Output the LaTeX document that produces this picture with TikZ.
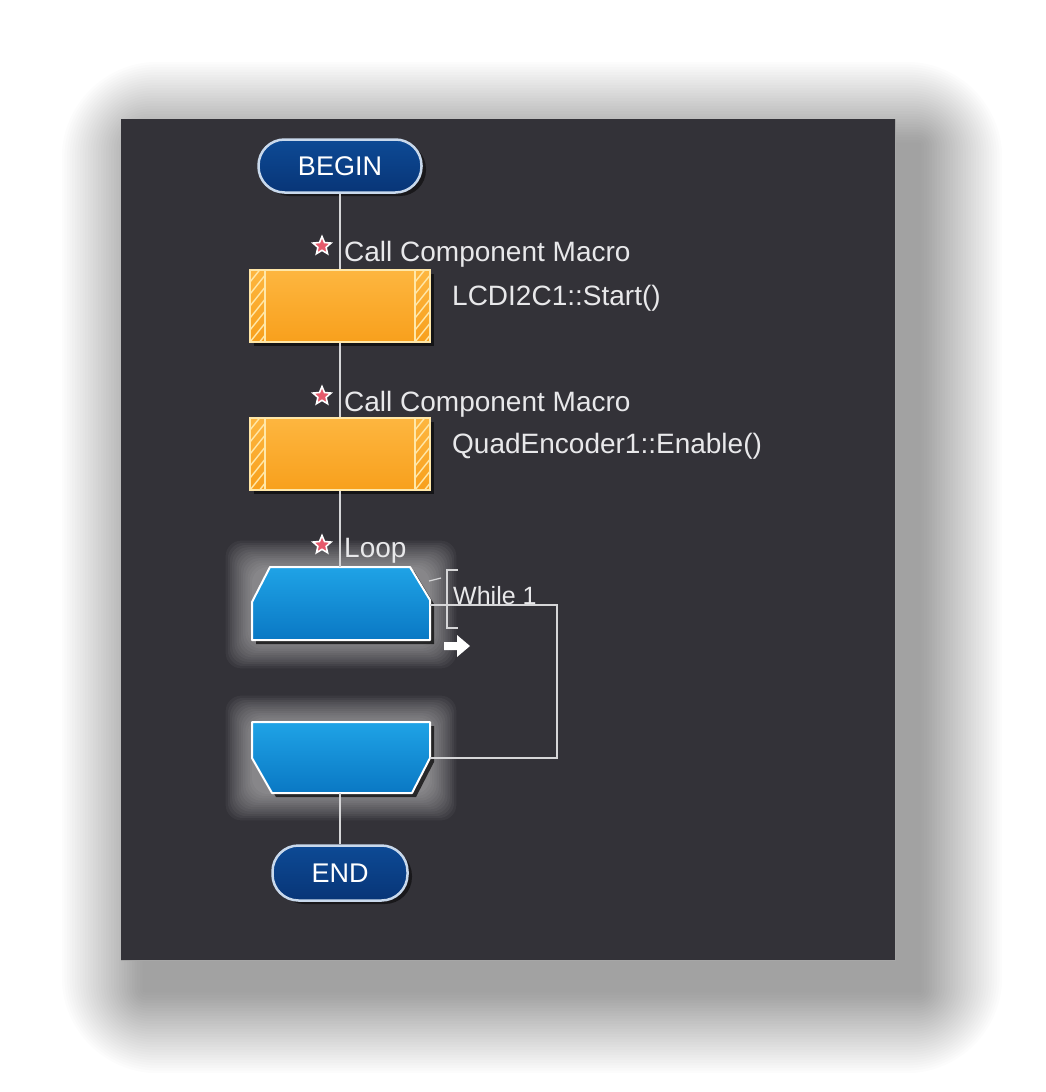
\documentclass[tikz,border=0pt]{standalone}
\usepackage{fontspec}
\setmainfont{Liberation Sans}
\usetikzlibrary{shapes.geometric}
\definecolor{panel}{HTML}{333238}
\definecolor{pilltop}{HTML}{0D4A95}
\definecolor{pillbot}{HTML}{083577}
\definecolor{pillrim}{HTML}{C9D9EC}
\definecolor{orgtop}{HTML}{FDB640}
\definecolor{orgbot}{HTML}{F8A01C}
\definecolor{orgrim}{HTML}{FFE7A8}
\definecolor{bluetop}{HTML}{1FA3E6}
\definecolor{bluebot}{HTML}{0A78C4}
\definecolor{txt}{HTML}{E8E8EA}
\definecolor{wire}{HTML}{D6D6D8}
\definecolor{starfill}{HTML}{E65A6C}
\tikzset{
  lbl/.style={text=txt, font=\fontsize{28}{30}\selectfont, inner sep=0pt, anchor=west},
  pill/.style={rectangle, rounded corners=26pt, draw=pillrim, line width=2.5pt,
     top color=pilltop, bottom color=pillbot, text=white,
     font=\fontsize{27}{30}\selectfont, minimum height=53pt},
  macro/.style={rectangle, draw=orgrim, line width=1.5pt, top color=orgtop, bottom color=orgbot,
     minimum width=180pt, minimum height=72pt, inner sep=0pt},
  anchorbox/.style={rectangle, draw=none, inner sep=0pt, minimum width=180pt},
  wireline/.style={draw=wire, line width=2pt},
  redstar/.style={star, star points=5, star point ratio=2.2, fill=starfill, draw=white,
     line width=1.6pt, minimum size=19pt, inner sep=0pt},
  hatch/.style={draw=orgrim, line width=1.4pt}
}
\begin{document}
\begin{tikzpicture}[x=1pt,y=-1pt]
\useasboundingbox (0,0) rectangle (1046,1092);
\fill[white] (0,0) rectangle (1046,1092);
% outer shadow
\foreach \i in {1,...,32}{
  \fill[black, opacity=0.012, rounded corners=\i*3pt]
    ({121+24-2.6*\i},{119+26-2.6*\i}) rectangle ({895+24+2.6*\i},{960+30+2.6*\i});
}
% panel
\fill[panel] (121,119) rectangle (895,960);
\draw[gray!70, line width=0.8pt] (895,119) -- (895,960) -- (121,960);

% glows around loop shapes
\foreach \i in {0,...,12}{
  \fill[white, opacity=0.045, rounded corners=16pt]
    ({252-2.2*\i},{567-2.2*\i}) rectangle ({430+2.2*\i},{642+2.2*\i});
  \fill[white, opacity=0.045, rounded corners=16pt]
    ({252-2.2*\i},{722-2.2*\i}) rectangle ({430+2.2*\i},{794+2.2*\i});
}

% BEGIN
\fill[black, opacity=0.5, rounded corners=26pt] (263,143) rectangle (426,196);
\node[pill, minimum width=163pt] (begin) at (340,166) {BEGIN};

% macro box 1
\fill[black, opacity=0.6] (254,274) rectangle (434,346);
\node[macro] (m1) at (340,306) {};
\begin{scope}
  \clip (250,270) rectangle (265,342);
  \foreach \k in {0,...,6}{\draw[hatch] (250,{282+12*\k}) -- (266,{262+12*\k});}
\end{scope}
\begin{scope}
  \clip (415,270) rectangle (430,342);
  \foreach \k in {0,...,6}{\draw[hatch] (415,{282+12*\k}) -- (431,{262+12*\k});}
\end{scope}
\draw[orgrim, line width=1.3pt] (265,270) -- (265,342) (415,270) -- (415,342);
\draw[orgrim, line width=1.5pt] (250,270) rectangle (430,342);

% macro box 2
\fill[black, opacity=0.6] (254,422) rectangle (434,494);
\node[macro] (m2) at (340,454) {};
\begin{scope}
  \clip (250,418) rectangle (265,490);
  \foreach \k in {0,...,6}{\draw[hatch] (250,{430+12*\k}) -- (266,{410+12*\k});}
\end{scope}
\begin{scope}
  \clip (415,418) rectangle (430,490);
  \foreach \k in {0,...,6}{\draw[hatch] (415,{430+12*\k}) -- (431,{410+12*\k});}
\end{scope}
\draw[orgrim, line width=1.3pt] (265,418) -- (265,490) (415,418) -- (415,490);
\draw[orgrim, line width=1.5pt] (250,418) rectangle (430,490);

% loop top shape
\node[anchorbox, minimum height=73pt] (loopA) at (340,603.5) {};
\fill[black, opacity=0.7] (274,571) -- (414,571) -- (434,604) -- (434,644) -- (256,644) -- (256,606) -- cycle;
\shade[top color=bluetop, bottom color=bluebot] (270,567) -- (410,567) -- (430,600) -- (430,640) -- (252,640) -- (252,602) -- cycle;
\draw[white, line width=2pt, line join=round] (270,567) -- (410,567) -- (430,600) -- (430,640) -- (252,640) -- (252,602) -- cycle;

% loop bottom shape
\node[anchorbox, minimum height=71pt] (loopB) at (340,757.5) {};
\fill[black, opacity=0.7] (256,726) -- (434,726) -- (434,762) -- (416,797) -- (276,797) -- (256,762) -- cycle;
\shade[top color=bluetop, bottom color=bluebot] (252,722) -- (430,722) -- (430,758) -- (412,793) -- (272,793) -- (252,758) -- cycle;
\draw[white, line width=2pt, line join=round] (252,722) -- (430,722) -- (430,758) -- (412,793) -- (272,793) -- (252,758) -- cycle;

% END
\fill[black, opacity=0.5, rounded corners=27pt] (277,849) rectangle (412,904);
\node[pill, minimum width=135pt, minimum height=55pt] (end) at (340,873) {END};

% connectors
\draw[wireline] (begin.south) -- (m1.north);
\draw[wireline] (m1.south) -- (m2.north);
\draw[wireline] (m2.south) -- (loopA.north);
\draw[wireline] (loopB.south) -- (end.north);
\coordinate (turn) at (557,605);
\draw[wireline] (loopA.east |- turn) -- (turn) |- (loopB.east);

% labels
\node[redstar] (s1) at (322,246) {};
\node[lbl] (t1) at (344,254) {Call Component Macro};
\node[lbl] (p1) at (452,298) {LCDI2C1::Start()};
\node[redstar] (s2) at (322,396) {};
\node[lbl] (t2) at (344,404) {Call Component Macro};
\node[lbl] (p2) at (452,446) {QuadEncoder1::Enable()};
\node[redstar] (s3) at (322,545) {};
\node[lbl] (t3) at (344,551) {Loop};
\node[lbl, font=\fontsize{25}{28}\selectfont] (w1) at (453,596) {While 1};

% bracket and tick
\draw[wire, line width=1.5pt] (458,570) -- (447,570) -- (447,628) -- (458,628);
\draw[wire, line width=1.2pt] (429,581) -- (441,578);
% block arrow
\fill[white] (444,642) -- (457,642) -- (457,635) -- (470,646) -- (457,657) -- (457,650) -- (444,650) -- cycle;
\end{tikzpicture}
\end{document}
